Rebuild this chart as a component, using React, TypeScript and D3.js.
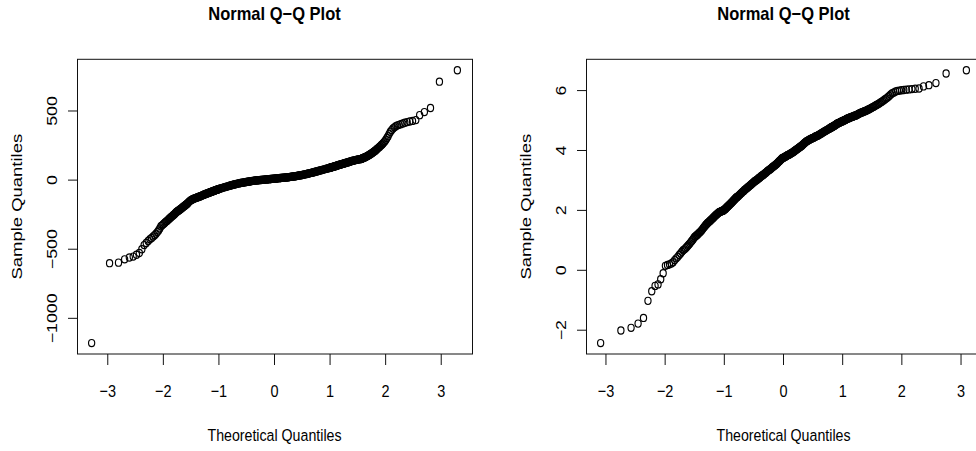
import React from "react";
import * as d3 from "d3";

// ---- Series 1: sorted sample values, n = 1000 ----
const leftN = 1000;
// ranks 1–20
const leftLowTail = [-1179, -601, -597, -573, -560, -553, -540, -527, -500, -470, -455, -440, -428, -418, -408, -398, -388, -376, -364, -350];
// ranks 21–60
const leftLowShoulder = [
  -333, -327, -320, -313, -306, -300, -295, -289, -283, -278,
  -272, -267, -262, -257, -252, -248, -243, -238, -232, -228,
  -225, -222, -219, -216, -212, -209, -206, -203, -199, -196,
  -193, -190, -187, -184, -181, -178, -175, -172, -170, -165,
];
// ranks 62–160, every second rank
const leftLowBody = [
  -158, -152, -147, -143, -140, -137, -135, -132, -130, -128,
  -126, -124, -122, -120, -118, -116, -114, -112, -110, -108,
  -106, -104, -103, -101, -99, -97, -96, -94, -92, -91,
  -89, -88, -86, -85, -84, -82, -81, -79, -78, -77,
  -75, -74, -72, -71, -70, -69, -67, -66, -65, -64,
];
// ranks 165–835, every fifth rank
const leftCore = [
  -61, -59, -56, -54, -51, -49, -47, -45, -43, -41,
  -39, -37, -35, -33, -31, -30, -28, -27, -25, -24,
  -22, -21, -20, -19, -18, -17, -16, -15, -14, -13,
  -12, -11, -10, -9, -8, -7, -6, -6, -5, -4,
  -3, -3, -2, -1, -1, 0, 0, 1, 1, 2,
  2, 3, 3, 4, 4, 5, 5, 6, 6, 7,
  7, 8, 8, 9, 9, 10, 10, 11, 11, 12,
  12, 13, 13, 14, 14, 15, 15, 16, 16, 17,
  17, 18, 18, 19, 19, 20, 20, 21, 22, 23,
  23, 24, 25, 26, 26, 27, 28, 29, 30, 31,
  32, 33, 34, 35, 36, 37, 38, 40, 41, 42,
  43, 45, 46, 48, 49, 51, 52, 54, 55, 57,
  59, 61, 62, 64, 66, 68, 70, 72, 74, 76,
  78, 80, 82, 84, 86,
];
// ranks 838–940, every second rank
const leftHighBody = [
  88, 89, 90, 91, 92, 93, 94, 95, 96, 97,
  98, 99, 100, 101, 103, 104, 105, 106, 108, 109,
  110, 111, 112, 114, 115, 116, 117, 119, 120, 121,
  123, 124, 126, 127, 128, 130, 131, 133, 134, 136,
  138, 139, 141, 142, 143, 145, 146, 147, 149, 150,
  151, 152,
];
// ranks 941–979
const leftHighShoulder = [
  153, 154, 156, 158, 160, 161, 163, 164, 166, 168,
  170, 172, 174, 176, 179, 181, 184, 187, 190, 193,
  196, 199, 203, 207, 211, 215, 220, 225, 230, 235,
  240, 246, 252, 258, 265, 273, 281, 292, 305,
];
// ranks 980–1000
const leftHighTail = [318, 335, 350, 362, 373, 382, 390, 396, 400, 405, 410, 415, 420, 424, 428, 434, 470, 492, 522, 712, 795];

// ---- Series 2: sorted sample values, n = 500 ----
const rightN = 500;
// ranks 1–29
const rightLowTail = [-2.43, -2.01, -1.92, -1.78, -1.59, -1.02, -0.7, -0.52, -0.47, -0.3, -0.1, 0.15, 0.18, 0.2, 0.23, 0.27, 0.34, 0.4, 0.45, 0.51, 0.56, 0.62, 0.67, 0.7, 0.74, 0.78, 0.82, 0.86, 0.9];
// ranks 30–110
const rightLowBody = [
  0.95, 0.99, 1.03, 1.08, 1.12, 1.14, 1.17, 1.19, 1.22, 1.25,
  1.27, 1.3, 1.33, 1.36, 1.4, 1.43, 1.46, 1.49, 1.52, 1.54,
  1.57, 1.59, 1.61, 1.63, 1.65, 1.67, 1.69, 1.71, 1.73, 1.75,
  1.77, 1.79, 1.81, 1.83, 1.85, 1.86, 1.88, 1.9, 1.91, 1.93,
  1.94, 1.95, 1.96, 1.96, 1.97, 1.98, 1.99, 1.99, 2.0, 2.01,
  2.03, 2.04, 2.05, 2.07, 2.09, 2.1, 2.12, 2.13, 2.15, 2.16,
  2.18, 2.19, 2.21, 2.22, 2.24, 2.25, 2.27, 2.28, 2.3, 2.31,
  2.33, 2.34, 2.36, 2.37, 2.39, 2.4, 2.42, 2.43, 2.44, 2.45,
  2.46,
];
// ranks 112–390, every second rank
const rightCore = [
  2.48, 2.51, 2.53, 2.56, 2.58, 2.61, 2.63, 2.65, 2.68, 2.7,
  2.72, 2.74, 2.76, 2.78, 2.8, 2.82, 2.84, 2.86, 2.88, 2.9,
  2.92, 2.94, 2.96, 2.98, 2.99, 3.01, 3.02, 3.04, 3.06, 3.08,
  3.09, 3.11, 3.13, 3.15, 3.16, 3.18, 3.19, 3.21, 3.23, 3.25,
  3.26, 3.28, 3.3, 3.32, 3.33, 3.35, 3.36, 3.38, 3.39, 3.41,
  3.43, 3.45, 3.46, 3.48, 3.49, 3.51, 3.52, 3.54, 3.56, 3.58,
  3.6, 3.62, 3.64, 3.66, 3.68, 3.7, 3.72, 3.74, 3.75, 3.76,
  3.77, 3.78, 3.79, 3.8, 3.82, 3.83, 3.84, 3.85, 3.86, 3.87,
  3.88, 3.89, 3.91, 3.92, 3.93, 3.94, 3.96, 3.97, 3.99, 4.0,
  4.02, 4.03, 4.05, 4.06, 4.08, 4.09, 4.11, 4.12, 4.14, 4.15,
  4.17, 4.19, 4.21, 4.23, 4.25, 4.27, 4.29, 4.3, 4.32, 4.33,
  4.34, 4.35, 4.37, 4.38, 4.39, 4.4, 4.41, 4.42, 4.43, 4.44,
  4.46, 4.47, 4.48, 4.49, 4.5, 4.51, 4.53, 4.54, 4.56, 4.57,
  4.59, 4.6, 4.62, 4.63, 4.65, 4.66, 4.68, 4.69, 4.71, 4.72,
];
// ranks 391–470
const rightHighBody = [
  4.73, 4.74, 4.75, 4.76, 4.77, 4.77, 4.78, 4.79, 4.8, 4.8,
  4.81, 4.82, 4.83, 4.84, 4.85, 4.86, 4.87, 4.88, 4.89, 4.9,
  4.91, 4.91, 4.92, 4.93, 4.94, 4.94, 4.95, 4.96, 4.97, 4.97,
  4.98, 4.99, 5.0, 5.0, 5.01, 5.02, 5.03, 5.04, 5.05, 5.06,
  5.07, 5.07, 5.08, 5.09, 5.1, 5.1, 5.11, 5.12, 5.13, 5.13,
  5.14, 5.15, 5.16, 5.16, 5.17, 5.18, 5.19, 5.2, 5.22, 5.23,
  5.24, 5.25, 5.26, 5.27, 5.28, 5.29, 5.3, 5.31, 5.32, 5.33,
  5.35, 5.36, 5.37, 5.39, 5.4, 5.42, 5.44, 5.45, 5.47, 5.49,
];
// ranks 471–500
const rightHighTail = [5.51, 5.53, 5.55, 5.57, 5.6, 5.62, 5.65, 5.68, 5.71, 5.74, 5.78, 5.82, 5.87, 5.91, 5.94, 5.97, 5.99, 6.0, 6.01, 6.02, 6.03, 6.04, 6.05, 6.06, 6.07, 6.14, 6.18, 6.25, 6.57, 6.68];

// ---- Axis ticks and labels ----
const xTicks = [-3, -2, -1, 0, 1, 2, 3];
const leftYTicks = [-1000, -500, 0, 500];
const rightYTicks = [-2, 0, 2, 4, 6];
const mainTitle = "Normal Q\u2212Q Plot";
const xTitle = "Theoretical Quantiles";
const yTitle = "Sample Quantiles";

// Inverse standard normal CDF (Acklam's rational approximation)
function qnorm(p: number): number {
  const a = [-3.969683028665376e1, 2.209460984245205e2, -2.759285104469687e2, 1.38357751867269e2, -3.066479806614716e1, 2.506628277459239];
  const b = [-5.447609879822406e1, 1.615858368580409e2, -1.556989798598866e2, 6.680131188771972e1, -1.328068155288572e1];
  const c = [-7.784894002430293e-3, -3.223964580411365e-1, -2.400758277161838, -2.549671348283915, 4.374664141464968, 2.938163982698783];
  const d = [7.784695709041462e-3, 3.224671290700398e-1, 2.445134137142996, 3.754408661907416];
  const pl = 0.02425;
  if (p < pl) {
    const q = Math.sqrt(-2 * Math.log(p));
    return (((((c[0] * q + c[1]) * q + c[2]) * q + c[3]) * q + c[4]) * q + c[5]) / ((((d[0] * q + d[1]) * q + d[2]) * q + d[3]) * q + 1);
  }
  if (p > 1 - pl) {
    const q = Math.sqrt(-2 * Math.log(1 - p));
    return -(((((c[0] * q + c[1]) * q + c[2]) * q + c[3]) * q + c[4]) * q + c[5]) / ((((d[0] * q + d[1]) * q + d[2]) * q + d[3]) * q + 1);
  }
  const q = p - 0.5;
  const r = q * q;
  return ((((((a[0] * r + a[1]) * r + a[2]) * r + a[3]) * r + a[4]) * r + a[5]) * q) / (((((b[0] * r + b[1]) * r + b[2]) * r + b[3]) * r + b[4]) * r + 1);
}

type Pt = { q: number; v: number };

// Pair each sorted sample value with the normal quantile of its rank, ppoints(n) style
function qqPairs(n: number, ranks: number[], values: number[]): Pt[] {
  return ranks
    .map((r, i) => ({ q: qnorm((r - 0.5) / n), v: values[i] }))
    .filter((p) => p.v !== undefined);
}

const leftPts = qqPairs(
  leftN,
  [
    ...d3.range(1, 21),
    ...d3.range(21, 61),
    ...d3.range(62, 161, 2),
    ...d3.range(165, 836, 5),
    ...d3.range(838, 941, 2),
    ...d3.range(941, 980),
    ...d3.range(980, 1001),
  ],
  [...leftLowTail, ...leftLowShoulder, ...leftLowBody, ...leftCore, ...leftHighBody, ...leftHighShoulder, ...leftHighTail]
);
const rightPts = qqPairs(
  rightN,
  [...d3.range(1, 30), ...d3.range(30, 111), ...d3.range(112, 391, 2), ...d3.range(391, 471), ...d3.range(471, 501)],
  [...rightLowTail, ...rightLowBody, ...rightCore, ...rightHighBody, ...rightHighTail]
);

const W = 976;
const H = 451;
const FONT = "'Liberation Sans', Arial, Helvetica, sans-serif";
const PLOT_TOP = 59.3;
const PLOT_BOTTOM = 354;
const PLOT_W = 395;

// R-style range with 4% padding on each side
function padded(ext: [number, number]): [number, number] {
  const pad = (ext[1] - ext[0]) * 0.04;
  return [ext[0] - pad, ext[1] + pad];
}

function QQPanel({ left, pts, yTicks }: { left: number; pts: Pt[]; yTicks: number[] }) {
  const x = d3.scaleLinear().domain(padded(d3.extent(pts, (p) => p.q) as [number, number])).range([left, left + PLOT_W]);
  const y = d3.scaleLinear().domain(padded(d3.extent(pts, (p) => p.v) as [number, number])).range([PLOT_BOTTOM, PLOT_TOP]);
  const cx = left + PLOT_W / 2;
  const cy = (PLOT_TOP + PLOT_BOTTOM) / 2;
  const fmt = (v: number) => String(v).replace("-", "\u2212");
  return (
    <g>
      <text
        transform={`translate(${cx},20) scale(1,1.13)`}
        textAnchor="middle"
        fontFamily={FONT}
        fontWeight="bold"
        fontSize={16.5}
        fill="#000"
      >
        {mainTitle}
      </text>

      {pts.map((p, i) => (
        <ellipse key={i} cx={x(p.q)} cy={y(p.v)} rx={3.1} ry={3.6} fill="none" stroke="#000" strokeWidth={1.15} />
      ))}

      <rect x={left + 0.5} y={PLOT_TOP} width={PLOT_W} height={PLOT_BOTTOM - PLOT_TOP} fill="none" stroke="#111" strokeWidth={1} />

      {/* bottom axis */}
      {xTicks.map((t) => (
        <g key={`x${t}`}>
          <line x1={x(t)} x2={x(t)} y1={PLOT_BOTTOM} y2={PLOT_BOTTOM + 11} stroke="#111" strokeWidth={1} />
          <text
            transform={`translate(${x(t)},396.5) scale(1,1.2)`}
            textAnchor="middle"
            fontFamily={FONT}
            fontSize={14.5}
            fill="#000"
          >
            {fmt(t)}
          </text>
        </g>
      ))}
      <text transform={`translate(${cx},440.5) scale(1,1.18)`} textAnchor="middle" fontFamily={FONT} fontSize={14.2} fill="#000">
        {xTitle}
      </text>

      {/* left axis */}
      {yTicks.map((t) => (
        <g key={`y${t}`}>
          <line x1={left + 0.5} x2={left - 9} y1={y(t)} y2={y(t)} stroke="#111" strokeWidth={1} />
          <text
            transform={`translate(${left - 20},${y(t)}) scale(1,1.27) rotate(-90)`}
            textAnchor="middle"
            fontFamily={FONT}
            fontSize={14}
            fill="#000"
          >
            {fmt(t)}
          </text>
        </g>
      ))}
      <text
        transform={`translate(${left - 55.5},${cy}) scale(1,1.32) rotate(-90)`}
        textAnchor="middle"
        fontFamily={FONT}
        fontSize={14}
        fill="#000"
      >
        {yTitle}
      </text>
    </g>
  );
}

export default function App() {
  return (
    <svg
      width={W}
      height={H}
      viewBox={`0 0 ${W} ${H}`}
      style={{ position: "absolute", left: 0, top: 0, background: "#fff", display: "block" }}
    >
      <rect width={W} height={H} fill="#fff" />
      <QQPanel left={77} pts={leftPts} yTicks={leftYTicks} />
      <QQPanel left={586} pts={rightPts} yTicks={rightYTicks} />
    </svg>
  );
}
